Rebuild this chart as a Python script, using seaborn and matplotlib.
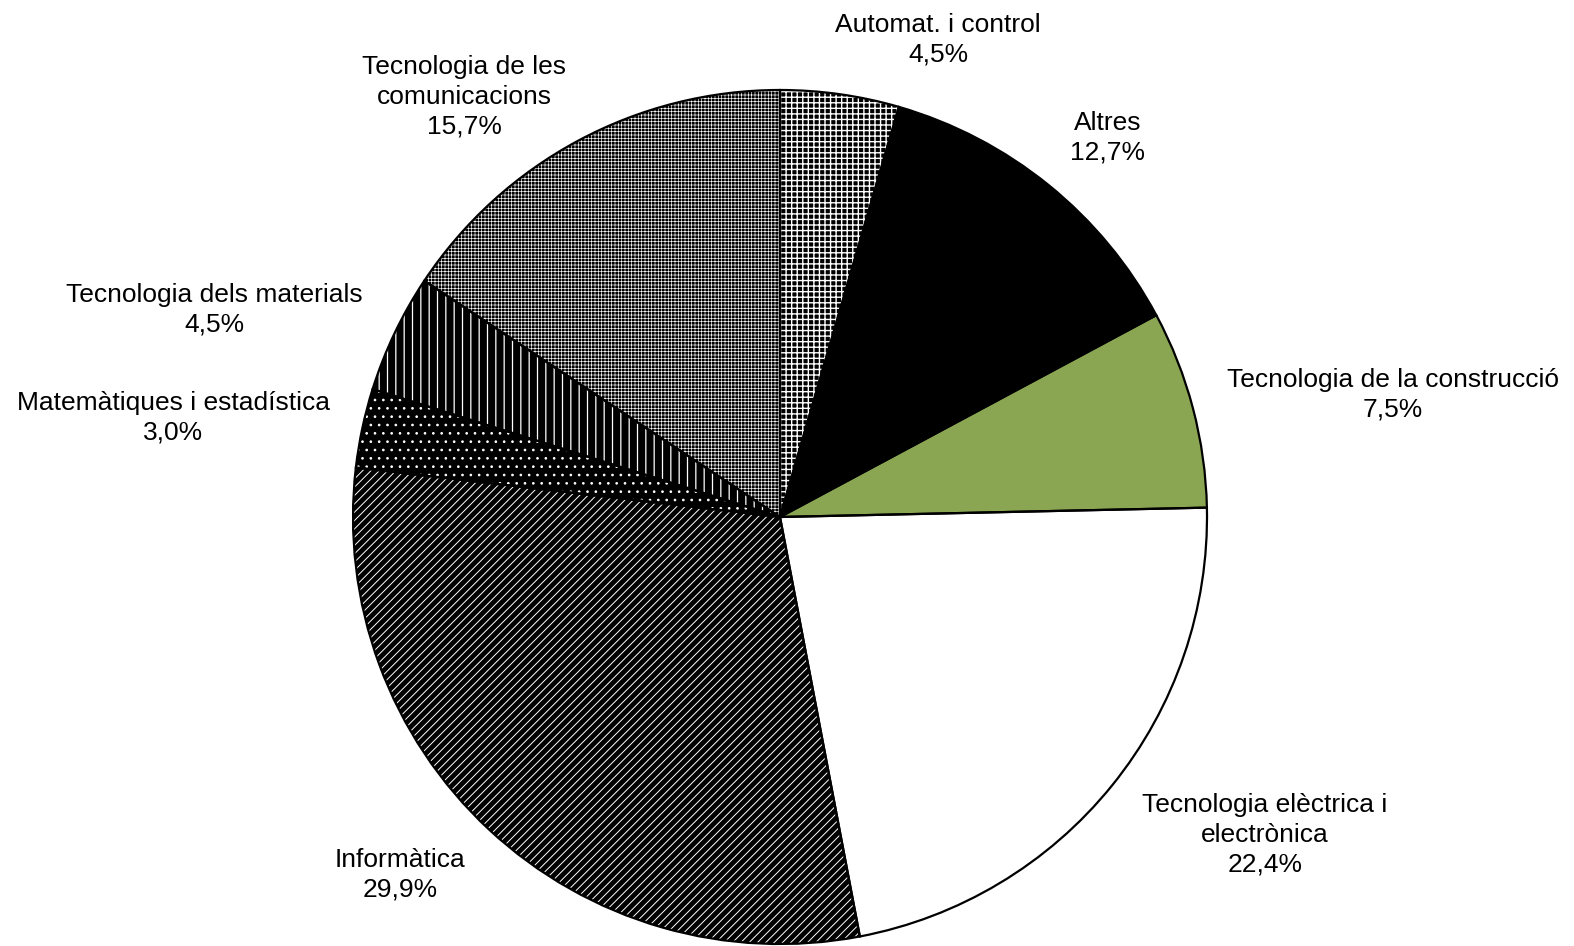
import matplotlib
matplotlib.use("Agg")
import matplotlib.pyplot as plt
import seaborn as sns
import pandas as pd

categories = ["Automat. i control", "Altres", "Tecnologia de la construcció",
              "Tecnologia elèctrica i\nelectrònica", "Informàtica",
              "Matemàtiques i estadística", "Tecnologia dels materials",
              "Tecnologia de les\ncomunicacions"]
values = [4.5, 12.7, 7.5, 22.4, 29.9, 3.0, 4.5, 15.7]
value_labels = ["4,5%", "12,7%", "7,5%", "22,4%", "29,9%", "3,0%", "4,5%", "15,7%"]

df = pd.DataFrame({"categoria": categories, "valor": values, "etiqueta": value_labels})

sns.set_theme(style="white")
plt.rcParams["font.family"] = ["Liberation Sans", "DejaVu Sans"]
plt.rcParams["hatch.linewidth"] = 0.7

face_colors = ["black", "black", "#8AA652", "white", "black", "black", "black", "black"]
hatches = ["+++", None, None, None, "////", "..", "||", "+++++"]
hatch_colors = ["white", "black", "#8AA652", "white", "white", "white", "white", "white"]
hatch_lw = [1.0, 0.7, 0.7, 0.7, 0.7, 0.7, 0.9, 0.45]

fig = plt.figure(figsize=(15.74, 9.46), dpi=100)
ax = fig.add_axes([0, 0, 1, 1])

cx, cy, R = 780, 517, 427
W, H = 1574, 946

# fill + hatch layer
wedges, _ = ax.pie(df["valor"], startangle=90, counterclock=False, radius=1,
                   wedgeprops=dict(linewidth=0))
for w, fc, h, hc, hl in zip(wedges, face_colors, hatches, hatch_colors, hatch_lw):
    w.set_facecolor(fc)
    w.set_edgecolor(hc)
    w.set_linewidth(0)
    if h:
        w.set_hatch(h)
        if hasattr(w, "set_hatch_linewidth"):
            w.set_hatch_linewidth(hl)

# outline layer
ax.pie(df["valor"], startangle=90, counterclock=False, radius=1,
       wedgeprops=dict(fill=False, edgecolor="black", linewidth=1.6))

ax.set_xlim(-cx / R, (W - cx) / R)
ax.set_ylim(-(H - cy) / R, cy / R)
ax.set_aspect("equal")
ax.axis("off")

label_px = [(938, 40), (1108, 138), (1393, 395), (1265, 835),
            (400, 875), (173, 418), (214, 310), (464, 97)]
for (px, py), cat, lab in zip(label_px, df["categoria"], df["etiqueta"]):
    ax.text((px - cx) / R, (cy - py) / R, f"{cat}\n{lab}", ha="center", va="center",
            fontsize=19, linespacing=1.3, color="black")

fig.savefig("out.png", dpi=100)
